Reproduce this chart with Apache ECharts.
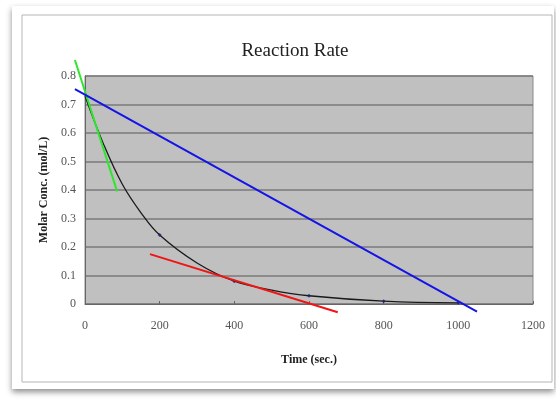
<!DOCTYPE html>
<html>
<head>
<meta charset="utf-8">
<title>Reaction Rate</title>
<script src="https://cdn.jsdelivr.net/npm/echarts@6/dist/echarts.min.js"></script>
<style>
  html, body { margin: 0; padding: 0; background: #fff; }
  #chart { width: 556px; height: 400px; }
</style>
</head>
<body>
<div id="chart"></div>
<script>
// measured points (sec, mol/L)
const sampleTime = [200, 400, 600, 800, 1000];
const sampleConc = [0.242, 0.08, 0.029, 0.01, 0.004];

// fitted decay curve
const curveTime = [0, 50, 100, 150, 200, 300, 400, 500, 600, 800, 1000];
const curveConc = [0.73, 0.56, 0.42, 0.32, 0.242, 0.144, 0.08, 0.049, 0.029, 0.01, 0.004];

// tangent / secant lines: [t1, c1, t2, c2]
const greenLine = [-27, 0.856, 86, 0.395];
const blueLine = [-27, 0.754, 1050, -0.027];
const redLine = [174, 0.175, 677, -0.029];

const serif = "'Liberation Serif', 'DejaVu Serif', serif";

const pair = (xs, ys) => xs.map((x, i) => [x, ys[i]]);

// straight line drawn through the axes, allowed to run past the plot edge
function segment(name, seg, color) {
  return {
    name,
    type: "custom",
    clip: false,
    z: 5,
    data: [seg],
    renderItem: (params, api) => {
      const p1 = api.coord([api.value(0), api.value(1)]);
      const p2 = api.coord([api.value(2), api.value(3)]);
      return {
        type: "line",
        shape: { x1: p1[0], y1: p1[1], x2: p2[0], y2: p2[1] },
        style: { stroke: color, lineWidth: 2 },
      };
    },
  };
}

const option = {
  animation: false,
  backgroundColor: "#fff",
  title: {
    text: "Reaction Rate",
    left: 290,
    textAlign: "center",
    top: 37,
    textStyle: { fontFamily: serif, fontSize: 19, fontWeight: "normal", color: "#222" },
  },
  graphic: [
    {
      type: "rect",
      z: -10,
      shape: { x: 12, y: 6, width: 542, height: 383 },
      style: { fill: "#fff", shadowBlur: 6, shadowOffsetY: 3, shadowColor: "rgba(0,0,0,0.45)" },
    },
    {
      type: "rect",
      z: -9,
      shape: { x: 22, y: 15, width: 530, height: 367 },
      style: { fill: "#fff", stroke: "#b5b5b5", lineWidth: 1 },
    },
  ],
  grid: {
    left: 85,
    right: 23,
    top: 76,
    bottom: 96,
    show: true,
    backgroundColor: "#c0c0c0",
    borderColor: "#8a8a8a",
    borderWidth: 1,
  },
  xAxis: {
    type: "value",
    min: 0,
    max: 1200,
    interval: 200,
    name: "Time (sec.)",
    nameLocation: "middle",
    nameGap: 50,
    nameTextStyle: { fontFamily: serif, fontSize: 12, fontWeight: "bold", color: "#222" },
    axisLine: { show: true, lineStyle: { color: "#666" } },
    axisTick: { show: true, inside: true, length: 3, lineStyle: { color: "#666" } },
    axisLabel: { fontFamily: serif, fontSize: 12, color: "#555", margin: 16, formatter: (v) => String(v) },
    splitLine: { show: false },
  },
  yAxis: {
    type: "value",
    min: 0,
    max: 0.8,
    interval: 0.1,
    name: "Molar Conc. (mol/L)",
    nameLocation: "middle",
    nameGap: 34,
    nameTextStyle: { fontFamily: serif, fontSize: 12, fontWeight: "bold", color: "#222" },
    axisLine: { show: true, lineStyle: { color: "#666" } },
    axisTick: { show: false },
    axisLabel: {
      fontFamily: serif,
      fontSize: 12,
      color: "#555",
      margin: 9,
      formatter: (v) => (v === 0 ? "0" : v.toFixed(1)),
    },
    splitLine: { show: true, lineStyle: { color: "#7a7a7a", width: 1.5 } },
  },
  series: [
    {
      name: "fit",
      type: "line",
      smooth: 0.4,
      showSymbol: false,
      data: pair(curveTime, curveConc),
      lineStyle: { color: "#1a1a1a", width: 1.3 },
      z: 3,
    },
    {
      name: "samples",
      type: "scatter",
      symbol: "diamond",
      symbolSize: 4,
      data: pair(sampleTime, sampleConc),
      itemStyle: { color: "#1a1f70" },
      z: 4,
    },
    segment("initial rate", greenLine, "#2ee62e"),
    segment("average rate", blueLine, "#1414e6"),
    segment("rate at 370s", redLine, "#f01414"),
  ],
};

const chart = echarts.init(document.getElementById("chart"));
chart.setOption(option);
</script>
</body>
</html>
